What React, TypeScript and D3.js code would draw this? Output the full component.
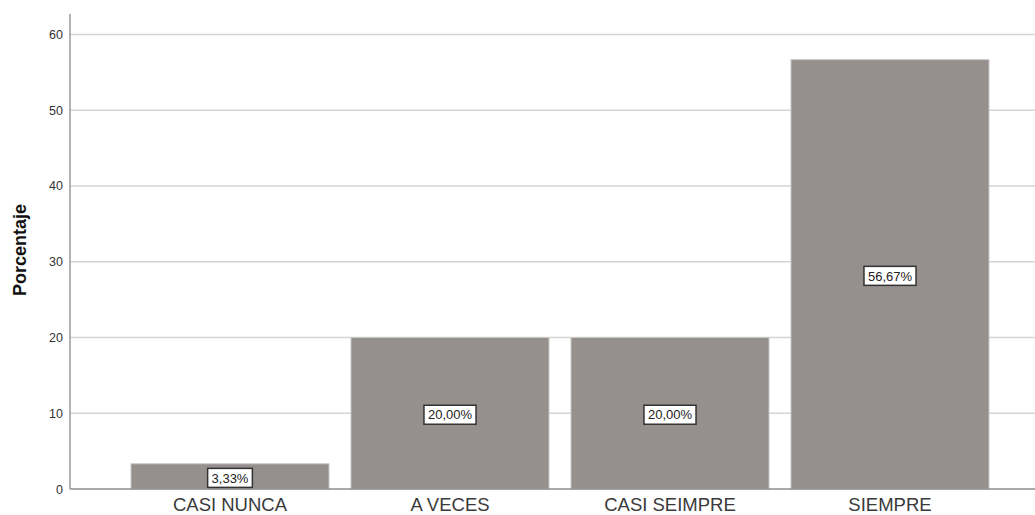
import React from "react";
import * as d3 from "d3";

const categories = ["CASI NUNCA", "A VECES", "CASI SEIMPRE", "SIEMPRE"];
const values = [3.33, 20.0, 20.0, 56.67];
const valueLabels = ["3,33%", "20,00%", "20,00%", "56,67%"];
const yTicks = [0, 10, 20, 30, 40, 50, 60];
const yTitle = "Porcentaje";

const W = 1035;
const H = 515;

export default function App() {
  const x = d3
    .scaleBand<string>()
    .domain(categories)
    .range([120, 1000])
    .paddingInner(0.1)
    .paddingOuter(0.05);
  const y = d3.scaleLinear().domain([0, 62.7]).range([489, 14]);
  const axisX = 70;
  const font = "Arial, 'Liberation Sans', sans-serif";

  return (
    <svg
      width={W}
      height={H}
      style={{ position: "absolute", left: 0, top: 0, background: "#fff" }}
      fontFamily={font}
    >
      {/* gridlines */}
      {yTicks
        .filter((t) => t > 0)
        .map((t) => (
          <line
            key={"g" + t}
            x1={axisX}
            x2={W}
            y1={y(t)}
            y2={y(t)}
            stroke="#d4d4d4"
            strokeWidth={1.5}
          />
        ))}
      {/* bars */}
      {categories.map((c, i) => (
        <rect
          key={"b" + c}
          x={x(c)}
          y={y(values[i])}
          width={x.bandwidth()}
          height={y(0) - y(values[i])}
          fill="#958f8e"
          stroke="#c9c6c6"
          strokeWidth={1}
        />
      ))}
      {/* axes */}
      <line x1={axisX} x2={W} y1={y(0)} y2={y(0)} stroke="#8c8c8c" strokeWidth={1.5} />
      <line x1={axisX} x2={axisX} y1={y(0)} y2={14} stroke="#9a9a9a" strokeWidth={1.5} />
      {/* y tick labels */}
      {yTicks.map((t) => (
        <text
          key={"t" + t}
          x={63}
          y={y(t)}
          dy="0.36em"
          textAnchor="end"
          fontSize={12.5}
          fill="#333"
        >
          {t}
        </text>
      ))}
      {/* y title */}
      <text
        transform={`translate(26,250) rotate(-90)`}
        textAnchor="middle"
        fontSize={18}
        fontWeight="bold"
        fill="#111"
      >
        {yTitle}
      </text>
      {/* x labels */}
      {categories.map((c) => (
        <text
          key={"x" + c}
          x={(x(c) as number) + x.bandwidth() / 2}
          y={511}
          textAnchor="middle"
          fontSize={18.5}
          fill="#3a3a3a"
        >
          {c}
        </text>
      ))}
      {/* value labels */}
      {categories.map((c, i) => {
        const cx = (x(c) as number) + x.bandwidth() / 2;
        const cy = (y(0) + y(values[i])) / 2 + 1.5;
        const fs = 13;
        const w = valueLabels[i].length * fs * 0.565 + 8;
        const h = 19;
        return (
          <g key={"v" + c}>
            <rect
              x={cx - w / 2}
              y={cy - h / 2}
              width={w}
              height={h}
              fill="#fff"
              stroke="#333"
              strokeWidth={1.5}
            />
            <text x={cx} y={cy} dy="0.36em" textAnchor="middle" fontSize={fs} fill="#222">
              {valueLabels[i]}
            </text>
          </g>
        );
      })}
    </svg>
  );
}
